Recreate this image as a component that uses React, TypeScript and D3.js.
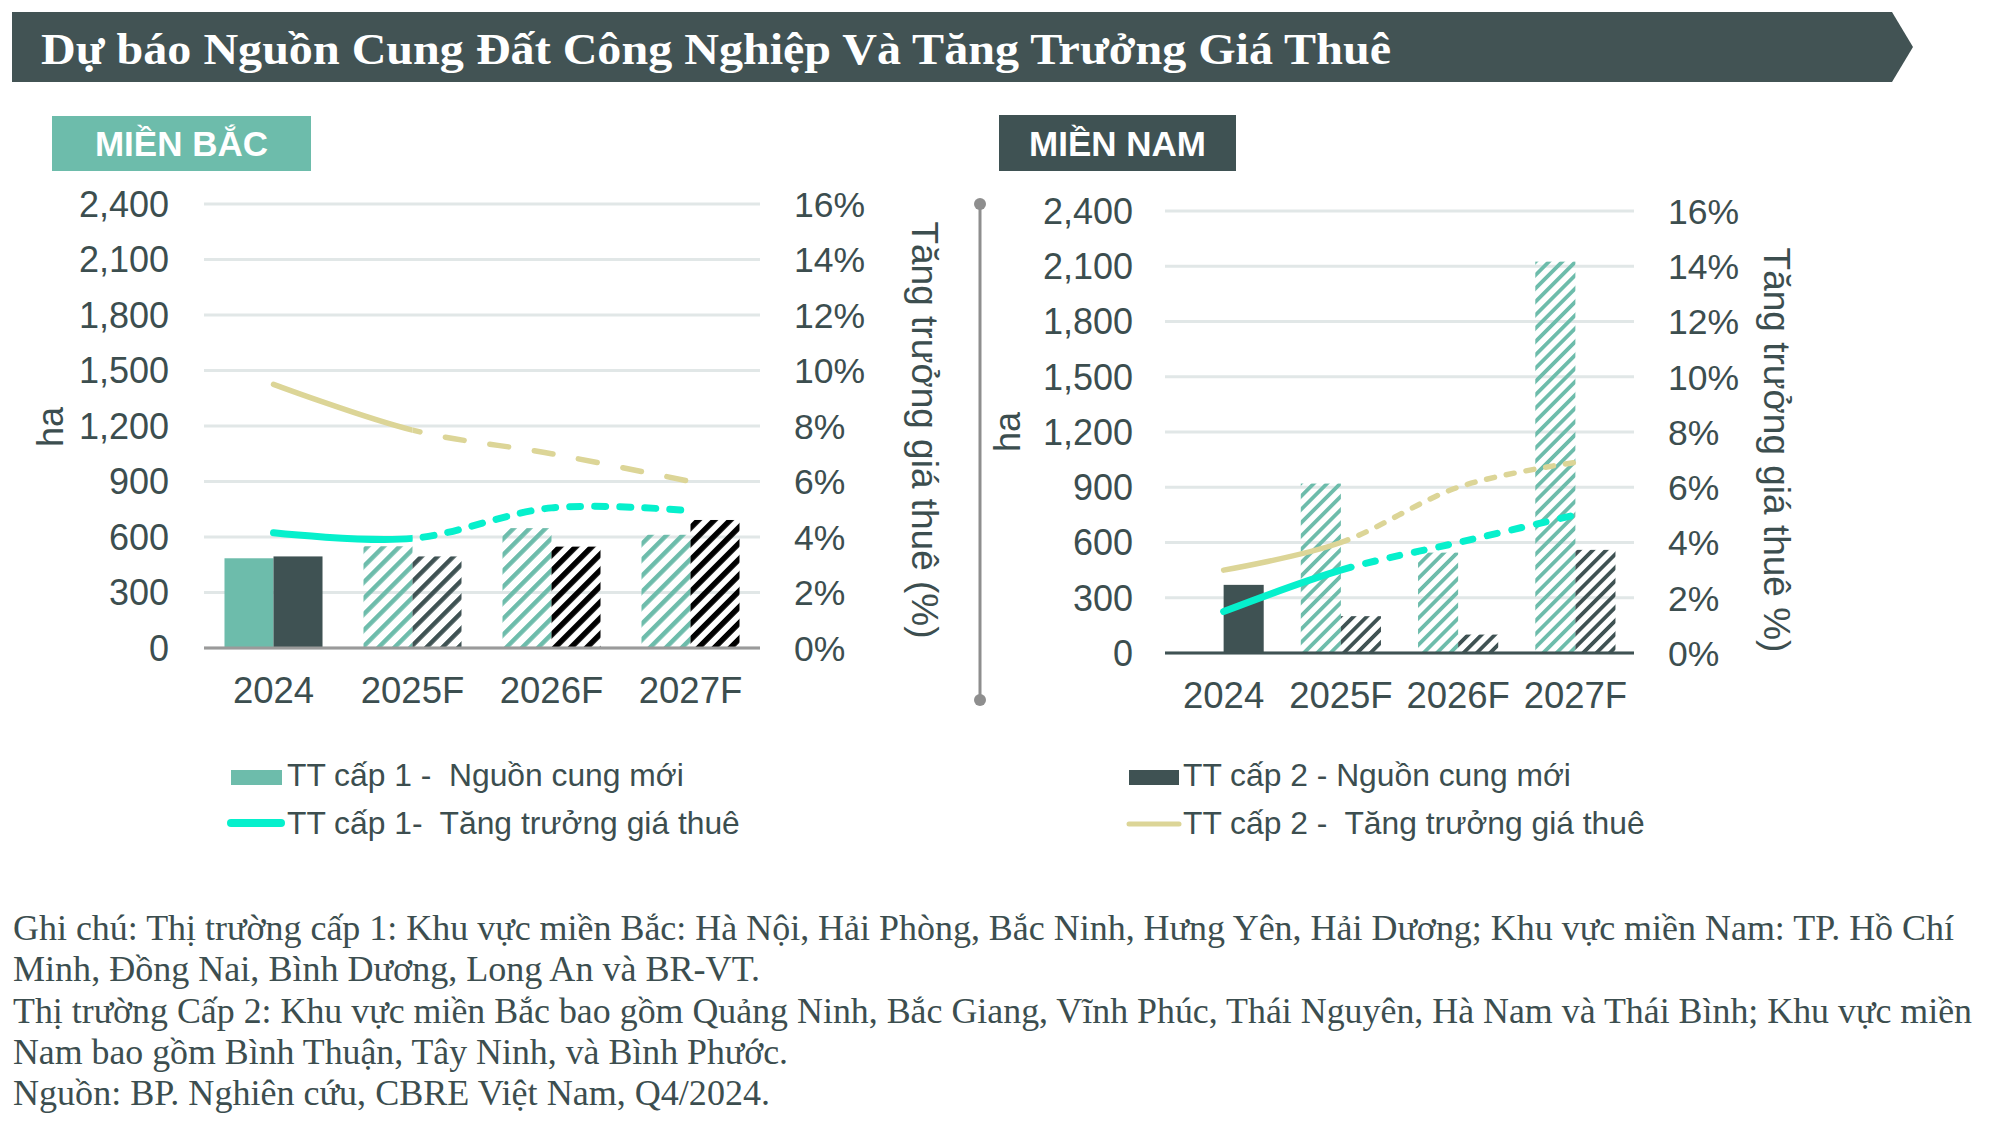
import React from "react";
import * as d3 from "d3";

// Categories and axis ticks
const categories = ["2024", "2025F", "2026F", "2027F"];
const haTicks = [0, 300, 600, 900, 1200, 1500, 1800, 2100, 2400];
const pctTicks = [0, 2, 4, 6, 8, 10, 12, 14, 16];

// Miền Bắc
const northTier1Supply = [485, 550, 648, 612];
const northTier2Supply = [495, 495, 548, 692];
const northTier1Rent = [4.15, 3.95, 5.05, 4.95];
const northTier2Rent = [9.5, 7.85, 7.0, 6.0];

// Miền Nam
const southTier1Supply = [0, 920, 545, 2125];
const southTier2Supply = [370, 200, 100, 560];
const southTier1Rent = [1.5, 3.0, 4.0, 5.0];
const southTier2Rent = [3.0, 4.0, 6.0, 6.9];

const titleText = "Dự báo Nguồn Cung Đất Công Nghiệp Và Tăng Trưởng Giá Thuê";
const legendItems = [
  "TT cấp 1 -  Nguồn cung mới",
  "TT cấp 1-  Tăng trưởng giá thuê",
  "TT cấp 2 - Nguồn cung mới",
  "TT cấp 2 -  Tăng trưởng giá thuê",
];
const footnoteLines = [
  "Ghi chú: Thị trường cấp 1: Khu vực miền Bắc: Hà Nội, Hải Phòng, Bắc Ninh, Hưng Yên, Hải Dương; Khu vực miền Nam: TP. Hồ Chí",
  "Minh, Đồng Nai, Bình Dương, Long An và BR-VT.",
  "Thị trường Cấp 2: Khu vực miền Bắc bao gồm Quảng Ninh, Bắc Giang, Vĩnh Phúc, Thái Nguyên, Hà Nam và Thái Bình; Khu vực miền",
  "Nam bao gồm Bình Thuận, Tây Ninh, và Bình Phước.",
  "Nguồn: BP. Nghiên cứu, CBRE Việt Nam, Q4/2024.",
];
const footnoteWidths = [1941, 747, 1959, 775, 757];

// Colours
const teal = "#6dbcab";
const slate = "#3f5253";
const cyan = "#06f0cc";
const khaki = "#dcd597";
const textColor = "#3c4e4f";
const gridColor = "#e1e7e7";
const sans = "'Liberation Sans', Arial, sans-serif";
const serif = "'Liberation Serif', 'Times New Roman', serif";

const Panel = ({ cfg }) => {
  const { id, left, right, top, bottom } = cfg;
  const x = d3.scaleBand().domain(categories).range([left, right]);
  const sub = d3
    .scaleBand()
    .domain(["t1", "t2"])
    .range([0, x.bandwidth()])
    .paddingOuter(cfg.padOuter);
  const y = d3.scaleLinear().domain([0, 2400]).range([bottom, top]);
  const yR = d3.scaleLinear().domain([0, 16]).range([bottom, top]);
  const cx = (i) => x(categories[i]) + x.bandwidth() / 2;

  const line = d3
    .line()
    .x((d, i) => cx(i))
    .y((d) => yR(d))
    .curve(d3.curveCardinal.tension(0));

  const fillFor = (tier, i) => {
    if (i === 0) return tier === "t1" ? teal : slate;
    if (tier === "t1") return `url(#${id}-teal)`;
    return `url(#${id}-${cfg.t2Hatch[i]})`;
  };

  const hatch = (name, color, w) => (
    <pattern
      id={`${id}-${name}`}
      patternUnits="userSpaceOnUse"
      width={cfg.hatchPeriod}
      height={cfg.hatchPeriod}
      patternTransform="rotate(45)"
    >
      <rect x={0} y={0} width={w} height={cfg.hatchPeriod} fill={color} />
    </pattern>
  );

  const drawLine = (values, color, width, dash) => (
    <g>
      <path
        d={line(values)}
        fill="none"
        stroke={color}
        strokeWidth={width}
        strokeLinecap="round"
        clipPath={`url(#${id}-solid)`}
      />
      <path
        d={line(values)}
        fill="none"
        stroke={color}
        strokeWidth={width}
        strokeLinecap="round"
        strokeDasharray={dash}
        clipPath={`url(#${id}-dash)`}
      />
    </g>
  );

  return (
    <g>
      <defs>
        {hatch("teal", teal, cfg.hatchW)}
        {hatch("slate", slate, cfg.hatchW)}
        {hatch("black", "#000", cfg.hatchW + 1)}
        <clipPath id={`${id}-solid`}>
          <rect x={left - 20} y={top - 40} width={cx(1) - left + 20} height={bottom - top + 80} />
        </clipPath>
        <clipPath id={`${id}-dash`}>
          <rect x={cx(1)} y={top - 40} width={right - cx(1) + 20} height={bottom - top + 80} />
        </clipPath>
      </defs>

      {/* gridlines */}
      {haTicks.map((t) => (
        <line key={t} x1={left} x2={right} y1={y(t)} y2={y(t)} stroke={gridColor} strokeWidth={3} />
      ))}

      {/* bars */}
      {categories.map((c, i) => (
        <g key={c}>
          {[
            ["t1", cfg.t1[i]],
            ["t2", cfg.t2[i]],
          ].map(([tier, v]) =>
            v > 0 ? (
              <rect
                key={tier}
                x={x(c) + sub(tier)}
                y={y(v)}
                width={sub.bandwidth()}
                height={y(0) - y(v)}
                fill={fillFor(tier, i)}
              />
            ) : null
          )}
        </g>
      ))}

      <line x1={left} x2={right} y1={y(0)} y2={y(0)} stroke={cfg.baseColor} strokeWidth={3} />

      {drawLine(cfg.r2, khaki, 5.5, cfg.khakiDash)}
      {drawLine(cfg.r1, cyan, 7, cfg.cyanDash)}

      {/* left ticks */}
      {haTicks.map((t) => (
        <text key={t} x={cfg.tickLeftX} y={y(t)} dy="0.36em" textAnchor="end" fontSize={36} fill={textColor} fontFamily={sans}>
          {d3.format(",")(t)}
        </text>
      ))}
      {/* right ticks */}
      {pctTicks.map((t) => (
        <text key={t} x={cfg.tickRightX} y={yR(t)} dy="0.36em" textAnchor="start" fontSize={35.5} fill={textColor} fontFamily={sans}>
          {t + "%"}
        </text>
      ))}
      {/* x labels */}
      {categories.map((c, i) => (
        <text key={c} x={cx(i)} y={cfg.xLabelY} textAnchor="middle" fontSize={36.5} fill={textColor} fontFamily={sans}>
          {c}
        </text>
      ))}
      <text
        transform={`translate(${cfg.haX},${cfg.haY}) rotate(-90)`}
        dy="0.36em"
        textAnchor="middle"
        fontSize={36}
        fill={textColor}
        fontFamily={sans}
      >
        ha
      </text>
      <text
        transform={`translate(${cfg.titleX},${cfg.titleY}) rotate(90)`}
        dy="0.36em"
        textAnchor="middle"
        fontSize={37}
        fill={textColor}
        fontFamily={sans}
      >
        {cfg.rightTitle}
      </text>

      {/* region label */}
      <rect x={cfg.label.x} y={cfg.label.y} width={cfg.label.w} height={cfg.label.h} fill={cfg.label.fill} />
      <text
        x={cfg.label.x + cfg.label.w / 2}
        y={cfg.label.y + cfg.label.h / 2}
        dy="0.36em"
        textAnchor="middle"
        fontSize={35}
        fontWeight="bold"
        fill="#fff"
        fontFamily={sans}
      >
        {cfg.label.text}
      </text>
    </g>
  );
};

const northCfg = {
  id: "north",
  left: 204,
  right: 760,
  top: 204,
  bottom: 648,
  t1: northTier1Supply,
  t2: northTier2Supply,
  r1: northTier1Rent,
  r2: northTier2Rent,
  t2Hatch: ["", "slate", "black", "black"],
  padOuter: 0.418,
  hatchPeriod: 11.3,
  hatchW: 4.5,
  baseColor: "#9a9a9a",
  cyanDash: "11 14",
  khakiDash: "19 26",
  tickLeftX: 169,
  tickRightX: 794,
  xLabelY: 703,
  haX: 50,
  haY: 427,
  titleX: 925,
  titleY: 430,
  rightTitle: "Tăng trưởng giá thuê (%)",
  label: { x: 52, y: 116, w: 259, h: 55, fill: teal, text: "MIỀN BẮC" },
};

const southCfg = {
  id: "south",
  left: 1165,
  right: 1634,
  top: 211,
  bottom: 653,
  t1: southTier1Supply,
  t2: southTier2Supply,
  r1: southTier1Rent,
  r2: southTier2Rent,
  t2Hatch: ["", "slate", "slate", "slate"],
  padOuter: 0.4625,
  hatchPeriod: 9.4,
  hatchW: 3.8,
  baseColor: slate,
  cyanDash: "10 15",
  khakiDash: "8 12",
  tickLeftX: 1133,
  tickRightX: 1668,
  xLabelY: 708,
  haX: 1007,
  haY: 432,
  titleX: 1777,
  titleY: 450,
  rightTitle: "Tăng trưởng giá thuê %)",
  label: { x: 999, y: 115, w: 237, h: 56, fill: slate, text: "MIỀN NAM" },
};

export default function App() {
  return (
    <svg
      width={2000}
      height={1129}
      style={{ position: "absolute", left: 0, top: 0, background: "#fff" }}
    >
      <rect x={0} y={0} width={2000} height={1129} fill="#fff" />
      {/* title banner */}
      <path d="M12,12 L1892,12 L1913,47 L1892,82 L12,82 Z" fill="#425354" />
      <text
        x={41}
        y={64}
        fontSize={45}
        fontWeight="bold"
        fill="#fff"
        fontFamily={serif}
        textLength={1350}
        lengthAdjust="spacingAndGlyphs"
      >
        {titleText}
      </text>

      <Panel cfg={northCfg} />
      <Panel cfg={southCfg} />

      {/* separator */}
      <line x1={980} x2={980} y1={204} y2={700} stroke="#8e8e8e" strokeWidth={3} />
      <circle cx={980} cy={204} r={6} fill="#8e8e8e" />
      <circle cx={980} cy={700} r={6} fill="#8e8e8e" />

      {/* legend */}
      <rect x={231} y={770} width={51} height={15} fill={teal} />
      <line x1={231} x2={281} y1={823} y2={823} stroke={cyan} strokeWidth={8} strokeLinecap="round" />
      <rect x={1129} y={770} width={50} height={15} fill={slate} />
      <line x1={1129} x2={1179} y1={824} y2={824} stroke={khaki} strokeWidth={5} strokeLinecap="round" />
      {legendItems.map((t, i) => (
        <text
          key={t}
          x={i < 2 ? 287 : 1183}
          y={i % 2 === 0 ? 786 : 834}
          fontSize={31.8}
          fill={textColor}
          fontFamily={sans}
          style={{ whiteSpace: "pre" }}
        >
          {t}
        </text>
      ))}

      {/* footnote */}
      {footnoteLines.map((t, i) => (
        <text
          key={i}
          x={13}
          y={940 + i * 41.3}
          fontSize={35}
          fill={textColor}
          fontFamily={serif}
          textLength={footnoteWidths[i]}
          lengthAdjust="spacingAndGlyphs"
        >
          {t}
        </text>
      ))}
    </svg>
  );
}
